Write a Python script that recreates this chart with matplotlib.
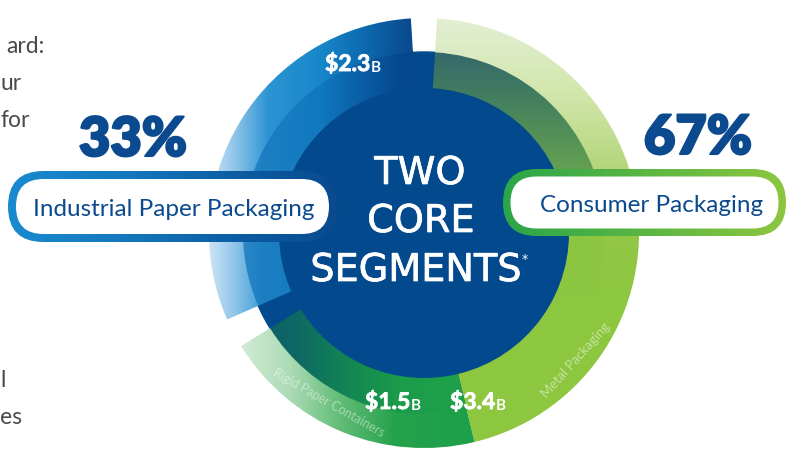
import numpy as np
import matplotlib
matplotlib.use("Agg")
import matplotlib.pyplot as plt
import matplotlib.patheffects as pe
from matplotlib.patches import Wedge, Circle, FancyBboxPatch
from matplotlib.colors import to_rgb

# ---------------- data ----------------
segments = ["Metal Packaging", "Rigid Paper Containers", "Industrial Paper Packaging"]
values = [3.4, 1.5, 2.3]            # net sales, $ billions
value_text = ["$3.4", "$1.5", "$2.3"]
group_names = ["Industrial Paper Packaging", "Consumer Packaging"]
group_shares = ["33%", "67%"]
center_words = ["TWO", "CORE", "SEGMENTS"]
side_text = ["ard:", "ur", "for", "l", "es"]

# ---------------- canvas ----------------
W, H = 793, 456
fig = plt.figure(figsize=(W / 100, H / 100), dpi=100)
ax = fig.add_axes([0, 0, 1, 1])
ax.axis("off")

CX, CY = 424, 234
R_OUT, R_MID, R_IN = 215, 181, 145
TOP_GAP = 7.0
DARK = "#03498d"

xs = np.arange(W) + 0.5
ys = np.arange(H) + 0.5


def grad_img(stops, axis):
    pos = [p for p, c in stops]
    cols = np.array([to_rgb(c) for p, c in stops])
    coord = xs if axis == "x" else ys
    rgb = np.stack([np.interp(coord, pos, cols[:, k]) for k in range(3)], axis=-1)
    if axis == "x":
        return np.ascontiguousarray(np.broadcast_to(rgb[None, :, :], (H, W, 3)))
    return np.ascontiguousarray(np.broadcast_to(rgb[:, None, :], (H, W, 3)))


def gradient_fill(patch, stops, axis, z):
    patch.set_facecolor("none")
    patch.set_edgecolor("none")
    patch.set_zorder(z)
    ax.add_patch(patch)
    im = ax.imshow(grad_img(stops, axis), extent=(0, W, H, 0), origin="upper",
                   zorder=z, interpolation="bilinear")
    im.set_clip_path(patch)


def ring(a1, a2, r, width):
    # a1 < a2 in screen (counter-clockwise, y-up) degrees; axes y is inverted
    return Wedge((CX, CY), r, -a2, -a1, width=width)


# ---------------- angles from data ----------------
total = sum(values)
avail = 360 - 2 * TOP_GAP - 1.0
spans = [v / total * avail for v in values]
start = 90 - TOP_GAP / 2
metal = (start - spans[0], start)
rigid = (metal[0] - spans[1], metal[0])
blue = (90 + TOP_GAP / 2, 90 + TOP_GAP / 2 + spans[2])

# center disc
ax.add_patch(Circle((CX, CY), R_MID, color=DARK, zorder=1))

# styles for each band
styles = {
    "Metal Packaging": dict(
        outer=([(19, "#e4efd4"), (100, "#d0e5a9"), (170, "#b3d67a"), (235, "#93c746"), (300, "#8dc63f")], "y"),
        inner=([(55, "#35696b"), (110, "#47845c"), (170, "#64a052"), (235, "#8cc540"), (300, "#8dc63f")], "y")),
    "Rigid Paper Containers": dict(
        outer=([(232, "#d9eedc"), (290, "#acdbb5"), (340, "#62bd77"), (395, "#25a24c"), (450, "#1ea04a")], "x"),
        inner=([(255, "#0c5c6c"), (300, "#0e6a62"), (350, "#138752"), (400, "#1b9c4a"), (450, "#1ea04a")], "x")),
    "Industrial Paper Packaging": dict(
        outer=([(207, "#d2e7f6"), (235, "#8fc5e9"), (268, "#2d94d3"), (320, "#1787ca"), (365, "#0d69ae"), (410, "#0a4a8f")], "x"),
        inner=([(225, "#3b8fcc"), (262, "#1d7fc2"), (320, "#1079bf"), (360, "#0b5fa6"), (400, DARK)], "x")),
}
angles = {"Metal Packaging": metal, "Rigid Paper Containers": rigid,
          "Industrial Paper Packaging": blue}

for name in segments:
    a1, a2 = angles[name]
    st = styles[name]
    # inner band slightly overlaps the outer one so no seam shows
    gradient_fill(ring(a1, a2, R_MID + 2, R_MID + 2 - R_IN), st["inner"][0], st["inner"][1], 2)
    gradient_fill(ring(a1, a2, R_OUT, R_OUT - R_MID), st["outer"][0], st["outer"][1], 2.2)

# ---------------- center text ----------------
thick = [pe.withStroke(linewidth=0.5, foreground="white")]
ctext = dict(color="white", fontsize=27.5, family="DejaVu Sans", ha="center",
             va="baseline", zorder=5, path_effects=thick)
ax.text(420, 185, center_words[0], **ctext)
ax.text(421, 233, center_words[1], **ctext)
seg = ax.text(416, 282, center_words[2], **ctext)

fig.canvas.draw()
renderer = fig.canvas.get_renderer()
inv = ax.transData.inverted()
bb = seg.get_window_extent(renderer)
sx = inv.transform((bb.x1, bb.y0))[0]
ax.text(sx + 3, 263, "*", color="white", fontsize=9, ha="center", va="baseline", zorder=5)

# ---------------- value labels ----------------
val_pos = {"Metal Packaging": (450, 410), "Rigid Paper Containers": (365, 410),
           "Industrial Paper Packaging": (325, 72)}
for name, txt in zip(segments, value_text):
    x, y = val_pos[name]
    t = ax.text(x, y, txt.replace("$", r"\$"), color="white", fontsize=16.5,
                family="Lato", weight="bold", ha="left", va="baseline", zorder=6,
                path_effects=[pe.withStroke(linewidth=0.6, foreground="white")])
    bb = t.get_window_extent(renderer)
    x1 = inv.transform((bb.x1, bb.y0))[0]
    ax.text(x1 + 0.5, y, "B", color="white", fontsize=11, family="Lato",
            weight="bold", ha="left", va="baseline", zorder=6)

# segment names along the ring
ax.text(329, 403, segments[1], color="white", alpha=0.45, fontsize=9, family="Lato",
        rotation=-29.5, rotation_mode="anchor", ha="center", va="center", zorder=6)
ax.text(576, 360, segments[0], color="white", alpha=0.5, fontsize=9.5, family="Lato",
        rotation=48, rotation_mode="anchor", ha="center", va="center", zorder=6)

# ---------------- label pills ----------------
def pill(x0, y0, x1, y1, border, stops, z):
    h = y1 - y0
    outer = FancyBboxPatch((x0, y0), x1 - x0, h,
                           boxstyle=f"round,pad=0,rounding_size={h / 2}")
    gradient_fill(outer, stops, "x", z)
    hi = h - 2 * border
    inner = FancyBboxPatch((x0 + border, y0 + border), x1 - x0 - 2 * border, hi,
                           boxstyle=f"round,pad=0,rounding_size={hi / 2}",
                           facecolor="white", edgecolor="none", zorder=z + 0.5)
    ax.add_patch(inner)


pill(8, 172, 337, 243, 8, [(8, "#1a8ad0"), (120, "#1479be"), (250, "#0b5aa0"), (337, "#0a4a8f")], 7)
pill(503, 170, 786, 237, 7.5, [(503, "#2aa64a"), (620, "#52b344"), (786, "#8dc63f")], 7)

navy = "#0b4a8f"
ax.text(174, 216, group_names[0], color=navy, fontsize=17.5, family="Lato",
        ha="center", va="baseline", zorder=9)
ax.text(652, 212, group_names[1], color=navy, fontsize=17.5, family="Lato",
        ha="center", va="baseline", zorder=9)
heavy = [pe.withStroke(linewidth=1.5, foreground=navy)]
ax.text(133, 157, group_shares[0], color=navy, fontsize=39, family="Lato",
        weight="heavy", ha="center", va="baseline", zorder=9, path_effects=heavy)
ax.text(698, 155, group_shares[1], color=navy, fontsize=39, family="Lato",
        weight="heavy", ha="center", va="baseline", zorder=9, path_effects=heavy)

# ---------------- cut-off paragraph on the left ----------------
side_pos = [(6, 53), (0, 90), (0, 127), (0, 387), (0, 424)]
for s, (x, y) in zip(side_text, side_pos):
    ax.text(x, y, s, color="#4a4a4a", fontsize=16.5, family="Lato",
            ha="left", va="baseline", zorder=9)

ax.set_xlim(0, W)
ax.set_ylim(H, 0)
fig.savefig("out.png", dpi=100, facecolor="white")
